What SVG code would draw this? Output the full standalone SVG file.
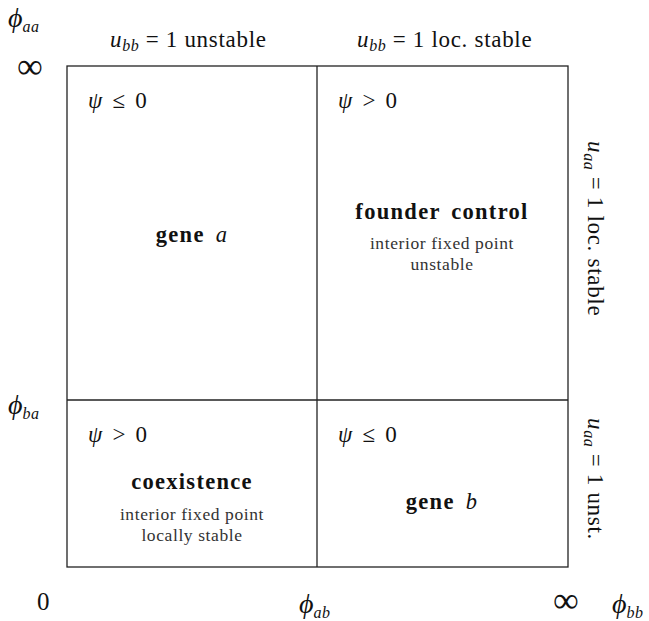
<svg xmlns="http://www.w3.org/2000/svg" width="649" height="621" viewBox="0 0 649 621">
<style>
text{font-family:"Liberation Serif","DejaVu Serif",serif;fill:#111;}
.m{font-size:23px;letter-spacing:0.7px;}
.i{font-style:italic;}
.s{font-size:16px;font-style:italic;letter-spacing:0.5px;}
.phi{font-size:28px;font-style:italic;}
.inf{font-size:36px;}
.zero{font-size:25px;}
.b{font-size:22.5px;font-weight:bold;letter-spacing:1.3px;word-spacing:4px;}
.sm{font-size:17.5px;fill:#333;letter-spacing:0.6px;}
.ln{stroke:#222;stroke-width:1.3;fill:none;}
</style>
<g id="axes">
<text x="8" y="27"><tspan class="phi">ϕ</tspan><tspan class="s" dy="5">aa</tspan></text>
<text class="inf" x="17" y="78">∞</text>
<text x="8" y="414"><tspan class="phi">ϕ</tspan><tspan class="s" dy="5">ba</tspan></text>
<text class="zero" x="37" y="610">0</text>
<text x="299" y="613"><tspan class="phi">ϕ</tspan><tspan class="s" dy="5">ab</tspan></text>
<text class="inf" x="553" y="612">∞</text>
<text x="612" y="613"><tspan class="phi">ϕ</tspan><tspan class="s" dy="5">bb</tspan></text>
<text class="m" x="110" y="47"><tspan class="i">u</tspan><tspan class="s" dy="4">bb</tspan><tspan dy="-4"> = 1 unstable</tspan></text>
<text class="m" x="357" y="47"><tspan class="i">u</tspan><tspan class="s" dy="4">bb</tspan><tspan dy="-4"> = 1 loc. stable</tspan></text>
<text class="m" transform="translate(588,141) rotate(90)"><tspan class="i">u</tspan><tspan class="s" dy="4">aa</tspan><tspan dy="-4"> = 1 loc. stable</tspan></text>
<text class="m" transform="translate(588,418) rotate(90)"><tspan class="i">u</tspan><tspan class="s" dy="4">aa</tspan><tspan dy="-4"> = 1 unst.</tspan></text>
</g>
<g id="connectors">
<rect class="ln" x="67" y="66" width="501" height="501"/>
<line class="ln" x1="317" y1="66" x2="317" y2="567"/>
<line class="ln" x1="67" y1="400" x2="568" y2="400"/>
</g>
<g id="gene-a">
<text class="m" x="88" y="108" style="word-spacing:3px"><tspan class="i">ψ</tspan> ≤ 0</text>
<text class="b" x="192" y="242" text-anchor="middle">gene <tspan class="i" font-weight="normal">a</tspan></text>
</g>
<g id="founder-control">
<text class="m" x="338" y="108" style="word-spacing:3px"><tspan class="i">ψ</tspan> &gt; 0</text>
<text class="b" x="442" y="219" text-anchor="middle">founder control</text>
<text class="sm" x="442" y="249" text-anchor="middle">interior fixed point</text>
<text class="sm" x="442" y="270" text-anchor="middle">unstable</text>
</g>
<g id="coexistence">
<text class="m" x="88" y="442" style="word-spacing:3px"><tspan class="i">ψ</tspan> &gt; 0</text>
<text class="b" x="192" y="489" text-anchor="middle">coexistence</text>
<text class="sm" x="192" y="520" text-anchor="middle">interior fixed point</text>
<text class="sm" x="192" y="541" text-anchor="middle">locally stable</text>
</g>
<g id="gene-b">
<text class="m" x="338" y="442" style="word-spacing:3px"><tspan class="i">ψ</tspan> ≤ 0</text>
<text class="b" x="442" y="509" text-anchor="middle">gene <tspan class="i" font-weight="normal">b</tspan></text>
</g>
</svg>
